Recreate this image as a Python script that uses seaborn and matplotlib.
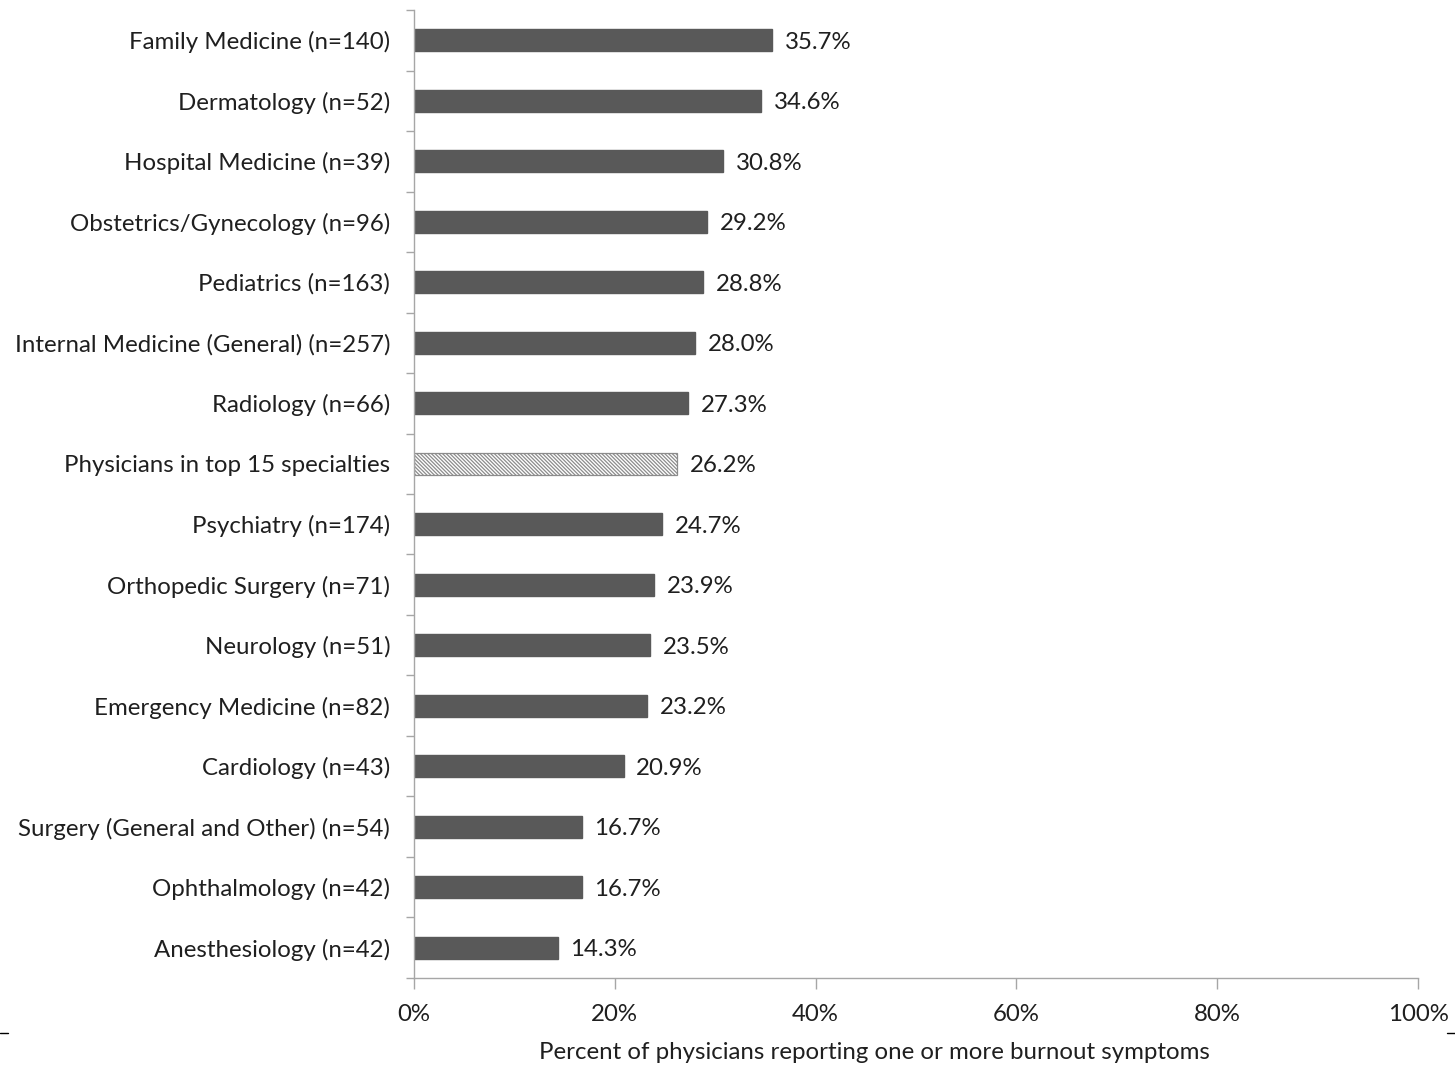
import seaborn as sns
import matplotlib.pyplot as plt
from matplotlib.ticker import FuncFormatter, FixedLocator

sns.set_theme(style="white")
plt.rcParams["font.family"] = ["Lato", "DejaVu Sans"]
plt.rcParams["hatch.linewidth"] = 0.9
plt.rcParams["hatch.color"] = "#7f7f7f"

specialties = [
    "Family Medicine (n=140)",
    "Dermatology (n=52)",
    "Hospital Medicine (n=39)",
    "Obstetrics/Gynecology (n=96)",
    "Pediatrics (n=163)",
    "Internal Medicine (General) (n=257)",
    "Radiology (n=66)",
    "Physicians in top 15 specialties",
    "Psychiatry (n=174)",
    "Orthopedic Surgery (n=71)",
    "Neurology (n=51)",
    "Emergency Medicine (n=82)",
    "Cardiology (n=43)",
    "Surgery (General and Other) (n=54)",
    "Ophthalmology (n=42)",
    "Anesthesiology (n=42)",
]
burnout_pct = [35.7, 34.6, 30.8, 29.2, 28.8, 28.0, 27.3, 26.2,
               24.7, 23.9, 23.5, 23.2, 20.9, 16.7, 16.7, 14.3]
overall_label = "Physicians in top 15 specialties"

dark = "#595959"
grey = "#a6a6a6"
txt = "#1f1f1f"
fs = 17.3

fig = plt.figure(figsize=(14.55, 10.68), dpi=100)
ax = fig.add_axes([0.2845, 0.0843, 0.6901, 0.9063])

colors = ["white" if s == overall_label else dark for s in specialties]
sns.barplot(x=burnout_pct, y=specialties, hue=specialties, palette=colors,
            legend=False, width=0.36, ax=ax, saturation=1)

# hatched bar for the overall group
for cat, bar in zip(specialties, ax.patches):
    if cat == overall_label:
        bar.set_facecolor("white")
        bar.set_edgecolor("#8c8c8c")
        bar.set_hatch("\\" * 9)
        bar.set_linewidth(0.9)
    else:
        bar.set_edgecolor(dark)

for c in ax.containers:
    for t in ax.bar_label(c, fmt="%.1f%%", padding=9, fontsize=fs, color=txt):
        t.set_va("center_baseline")

ax.set_xlim(0, 100)
ax.set_ylim(len(specialties) - 0.5, -0.5)
ax.xaxis.set_major_locator(FixedLocator([0, 20, 40, 60, 80, 100]))
ax.xaxis.set_major_formatter(FuncFormatter(lambda v, p: f"{v:.0f}%"))

# y ticks sit between categories
ax.yaxis.set_minor_locator(FixedLocator([i - 0.5 for i in range(len(specialties) + 1)]))
ax.tick_params(axis="y", which="major", length=0, pad=17, labelsize=fs, labelcolor=txt)
ax.tick_params(axis="y", which="minor", length=6, width=1, color=grey, left=True)
ax.tick_params(axis="x", which="major", length=8, width=1, color=grey, bottom=True,
               pad=11, labelsize=fs, labelcolor=txt)

sns.despine(ax=ax)
for s in ["left", "bottom"]:
    ax.spines[s].set_color(grey)
    ax.spines[s].set_linewidth(1)

ax.set_ylabel("")
ax.set_xlabel("Percent of physicians reporting one or more burnout symptoms",
              fontsize=fs, color=txt)
ax.xaxis.set_label_coords(0.459, -0.066)

# small marks at the bottom corners
fig.add_artist(plt.Line2D([0, 0.0055], [0.033, 0.033], color="black", lw=1))
fig.add_artist(plt.Line2D([0.9945, 1], [0.033, 0.033], color="black", lw=1))

fig.savefig("out.png", dpi=100)
